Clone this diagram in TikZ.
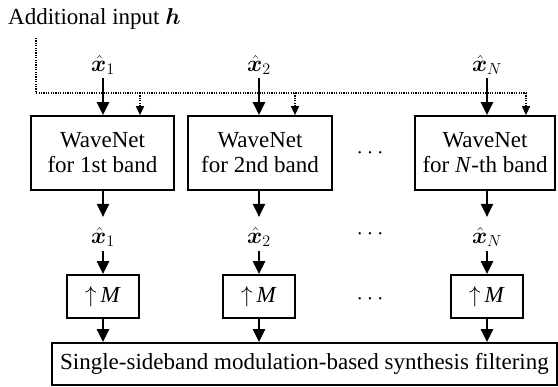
\RequirePackage{fix-cm}
\documentclass[tikz,border=0pt]{standalone}
\usepackage{amsmath,bm}
\usepackage{fontspec}
\setmainfont{Liberation Serif}
\usetikzlibrary{arrows.meta}

\begin{document}
\begin{tikzpicture}[x=1pt,y=-1pt,
  font=\fontsize{23}{25}\selectfont,
  blk/.style={draw, line width=1.7pt, inner sep=0pt, align=center},
  lbl/.style={inner sep=0pt},
  flow/.style={line width=2.3pt, -{Triangle[length=13pt,width=12pt]}},
  cond/.style={line width=1.3pt, dash pattern=on 1.2pt off 1.2pt},
  condarrow/.style={cond, -{Triangle[length=9pt,width=8pt]}}]
\useasboundingbox (0,0) rectangle (558,387);

% conditioning input
\node[lbl, anchor=base west] (h) at (8,25) {Additional input $\bm{h}$};

% band-wise WaveNets
\node[blk, minimum width=143pt, minimum height=74pt] (w1) at (102.5,153) {WaveNet\\for 1st band};
\node[blk, minimum width=144pt, minimum height=74pt] (w2) at (260,153) {WaveNet\\for 2nd band};
\node[blk, minimum width=140pt, minimum height=74pt] (wN) at (485,153) {WaveNet\\for \textit{N}-th band};

% inputs
\node[lbl] (i1) at (103,65) {$\bm{\hat{x}}_1$};
\node[lbl] (i2) at (259,65) {$\bm{\hat{x}}_2$};
\node[lbl] (iN) at (487,65) {$\bm{\hat{x}}_N$};

% outputs
\node[lbl] (o1) at (103,237) {$\bm{\hat{x}}_1$};
\node[lbl] (o2) at (259,237) {$\bm{\hat{x}}_2$};
\node[lbl] (oN) at (487,237) {$\bm{\hat{x}}_N$};

% upsampling
\node[blk, minimum width=72pt, minimum height=43pt] (m1) at (103,296.5) {$\uparrow$\,\textit{M}};
\node[blk, minimum width=72pt, minimum height=43pt] (m2) at (259,296.5) {$\uparrow$\,\textit{M}};
\node[blk, minimum width=72pt, minimum height=43pt] (mN) at (487,296.5) {$\uparrow$\,\textit{M}};

% synthesis
\node[blk, minimum width=505pt, minimum height=42pt] (sb) at (304.5,364) {Single-sideband modulation-based synthesis filtering};

% ellipses
\node[lbl] (d1) at (372,153) {$\cdots$};
\node[lbl] (d2) at (372,234) {$\cdots$};
\node[lbl] (d3) at (372,299) {$\cdots$};

% conditioning routing
\coordinate (c0) at (36,38);
\coordinate (c1) at (36,93);
\coordinate (c2) at (526,93);
\coordinate (b1) at (140,93);
\coordinate (b2) at (295,93);
\draw[cond] (c0) -- (c1) -- (c2);
\draw[condarrow] (b1) -- (b1 |- w1.north);
\draw[condarrow] (b2) -- (b2 |- w2.north);
\draw[condarrow] (c2) -- (c2 |- wN.north);

% signal flow
\foreach \a/\b/\c/\d in {i1/w1/o1/m1, i2/w2/o2/m2, iN/wN/oN/mN}{
  \draw[flow] ([yshift=-3pt]\a.south) -- (\a.south |- \b.north);
  \draw[flow] (\a.south |- \b.south) -- ([yshift=10pt]\c.north);
  \draw[flow] ([yshift=-4pt]\c.south) -- (\c.south |- \d.north);
  \draw[flow] (\d.south) -- (\d.south |- sb.north);
}
\end{tikzpicture}
\end{document}
